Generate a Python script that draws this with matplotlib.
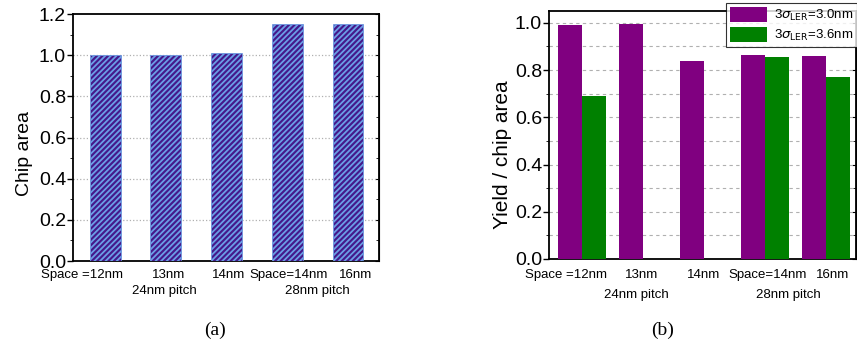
import numpy as np
import matplotlib
matplotlib.use("Agg")
import matplotlib.pyplot as plt

plt.rcParams['font.family'] = ['Liberation Sans', 'DejaVu Sans']
plt.rcParams['hatch.linewidth'] = 1.3

# Data
categories = ['Space =12nm', '13nm', '14nm', 'Space=14nm', '16nm']
groups = ['24nm pitch', '28nm pitch']
chip_area = [1.00, 1.00, 1.01, 1.15, 1.15]
yield_30 = [0.99, 0.993, 0.84, 0.863, 0.858]
yield_36 = [0.69, np.nan, np.nan, 0.856, 0.77]
legend_labels = [r'3$\sigma_{\rm LER}$=3.0nm', r'3$\sigma_{\rm LER}$=3.6nm']

x = np.arange(1, len(categories) + 1)

fig = plt.figure(figsize=(8.57, 3.54), dpi=100)

# ---- (a) chip area
ax1 = fig.add_axes([0.0852, 0.2627, 0.357, 0.6977])
ax1.bar(x, chip_area, width=0.51, color='#45188a', edgecolor='#6a9ee6',
        hatch='//////', linewidth=0.5, zorder=3)
ax1.set_xlim(0.47, 5.51)
ax1.set_ylim(0, 1.2)
ax1.set_yticks(np.arange(0, 1.21, 0.2))
ax1.set_yticks(np.arange(0.1, 1.2, 0.2), minor=True)
ax1.set_yticklabels(['%.1f' % v for v in np.arange(0, 1.21, 0.2)], fontsize=14)
ax1.set_xticks([])
for yv in np.arange(0.2, 1.1, 0.2):
    ax1.axhline(yv, color='#b0b0b0', linestyle=':', linewidth=0.9, zorder=1)
ax1.set_ylabel('Chip area', fontsize=14)
ax1.yaxis.set_label_coords(-0.13, 0.437)
ax1.tick_params(axis='y', direction='out', length=4, width=1, pad=1)
ax1.tick_params(axis='y', which='minor', direction='out', length=2)
sec1 = ax1.secondary_yaxis('right')
sec1.set_yticks(np.arange(0, 1.21, 0.2))
sec1.set_yticks(np.arange(0.1, 1.2, 0.2), minor=True)
sec1.tick_params(direction='in', length=3, labelright=False)
sec1.tick_params(which='minor', direction='in', length=2)
for s in ax1.spines.values():
    s.set_linewidth(1.3)

# category labels under the bars (positions in data units)
lab1_x = [0.613, 2.04, 3.03, 4.02, 5.12]
for xi, c in zip(lab1_x, categories):
    ax1.text(xi, -0.058, c, ha='center', va='center', fontsize=9.5,
             transform=ax1.get_xaxis_transform())
for xi, g in zip([1.98, 4.50], groups):
    ax1.text(xi, -0.123, g, ha='center', va='center', fontsize=9.5,
             transform=ax1.get_xaxis_transform())

# ---- (b) yield / chip area
ax2 = fig.add_axes([0.6406, 0.2684, 0.3582, 0.7006])
w = 0.4
ax2.bar(x - w / 2, yield_30, width=w, color='#800080', label=legend_labels[0], zorder=3)
ax2.bar(x + w / 2, yield_36, width=w, color='#008000', label=legend_labels[1], zorder=3)
ax2.set_xlim(0.46, 5.49)
ax2.set_ylim(0, 1.05)
ax2.set_yticks(np.arange(0, 1.01, 0.2))
ax2.set_yticks(np.arange(0.1, 1.0, 0.2), minor=True)
ax2.set_yticklabels(['%.1f' % v for v in np.arange(0, 1.01, 0.2)], fontsize=14)
ax2.set_xticks([])
for yv in np.arange(0.1, 1.01, 0.1):
    ax2.axhline(yv, color='#b0b0b0', linestyle=(0, (3, 3)), linewidth=0.8, zorder=1)
ax2.set_ylabel('Yield / chip area', fontsize=15)
ax2.yaxis.set_label_coords(-0.12, 0.42)
ax2.tick_params(axis='y', direction='out', length=4, width=1, pad=1)
ax2.tick_params(axis='y', which='minor', direction='out', length=2)
sec2 = ax2.secondary_yaxis('right')
sec2.set_yticks(np.arange(0, 1.01, 0.2))
sec2.set_yticks(np.arange(0.1, 1.0, 0.2), minor=True)
sec2.tick_params(direction='in', length=3, labelright=False)
sec2.tick_params(which='minor', direction='in', length=2)
for s in ax2.spines.values():
    s.set_linewidth(1.3)

lab2_x = [0.746, 1.975, 2.99, 4.05, 5.11]
for xi, c in zip(lab2_x, categories):
    ax2.text(xi, -0.065, c, ha='center', va='center', fontsize=9.5,
             transform=ax2.get_xaxis_transform())
for xi, g in zip([1.89, 4.385], groups):
    ax2.text(xi, -0.145, g, ha='center', va='center', fontsize=9.5,
             transform=ax2.get_xaxis_transform())

leg = ax2.legend(loc='upper right', bbox_to_anchor=(1.0, 1 - 3 / 354),
                 bbox_transform=fig.transFigure, fontsize=9.5, frameon=True,
                 fancybox=False, edgecolor='black', handlelength=2.8,
                 handleheight=1.4, borderpad=0.3, labelspacing=0.3,
                 handletextpad=0.5, borderaxespad=0)
leg.get_frame().set_linewidth(0.8)

# captions
fig.text(215 / 857, 1 - 330 / 354, '(a)', ha='center', va='center',
         fontsize=14, family='Liberation Serif')
fig.text(663 / 857, 1 - 330 / 354, '(b)', ha='center', va='center',
         fontsize=14, family='Liberation Serif')

fig.savefig('out.png', dpi=100)
